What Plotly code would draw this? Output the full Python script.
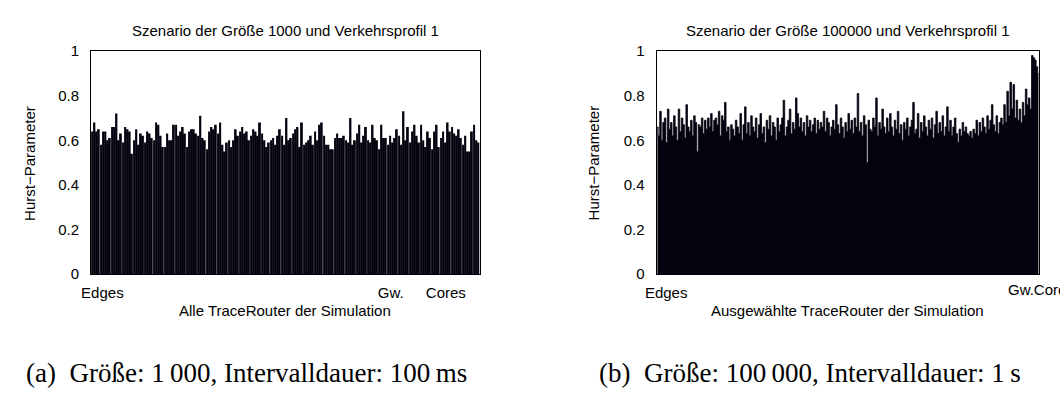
import plotly.graph_objects as go

# ---------------- data ----------------
hurst_1000 = [
    0.64, 0.68, 0.64, 0.65, 0.58, 0.64, 0.64, 0.60, 0.61, 0.66, 0.66, 0.72, 0.60, 0.63, 0.59, 0.66,
    0.65, 0.64, 0.54, 0.60, 0.65, 0.58, 0.63, 0.62, 0.59, 0.64, 0.63, 0.61, 0.60, 0.68, 0.67, 0.62,
    0.57, 0.57, 0.63, 0.60, 0.60, 0.67, 0.67, 0.62, 0.64, 0.66, 0.63, 0.57, 0.64, 0.65, 0.65, 0.63,
    0.62, 0.71, 0.61, 0.60, 0.56, 0.64, 0.66, 0.65, 0.67, 0.63, 0.68, 0.58, 0.55, 0.59, 0.60, 0.57,
    0.60, 0.65, 0.62, 0.64, 0.66, 0.63, 0.64, 0.60, 0.62, 0.65, 0.64, 0.62, 0.68, 0.63, 0.60, 0.57,
    0.59, 0.60, 0.61, 0.58, 0.62, 0.65, 0.62, 0.58, 0.70, 0.60, 0.61, 0.63, 0.65, 0.66, 0.57, 0.68,
    0.58, 0.59, 0.60, 0.62, 0.58, 0.64, 0.60, 0.67, 0.68, 0.62, 0.58, 0.58, 0.56, 0.56, 0.61, 0.63,
    0.61, 0.61, 0.62, 0.60, 0.59, 0.70, 0.58, 0.60, 0.63, 0.67, 0.59, 0.62, 0.66, 0.60, 0.59, 0.67,
    0.61, 0.60, 0.56, 0.67, 0.61, 0.61, 0.58, 0.62, 0.59, 0.61, 0.65, 0.62, 0.58, 0.73, 0.60, 0.66,
    0.59, 0.64, 0.67, 0.62, 0.59, 0.67, 0.60, 0.57, 0.64, 0.61, 0.56, 0.64, 0.67, 0.57, 0.61, 0.64,
    0.59, 0.68, 0.64, 0.66, 0.63, 0.62, 0.65, 0.61, 0.58, 0.62, 0.55, 0.55, 0.64, 0.67, 0.60, 0.59,
]

hurst_100000 = [
    0.66, 0.62, 0.73, 0.60, 0.68, 0.70, 0.59, 0.74, 0.65, 0.68, 0.62, 0.71, 0.66, 0.60, 0.74, 0.64,
    0.70, 0.67, 0.61, 0.76, 0.66, 0.64, 0.69, 0.62, 0.71, 0.68, 0.55, 0.67, 0.66, 0.70, 0.63,
    0.69, 0.65, 0.70, 0.66, 0.72, 0.64, 0.69, 0.70, 0.67, 0.73, 0.62, 0.71, 0.69, 0.77, 0.64, 0.66,
    0.60, 0.67, 0.65, 0.62, 0.69, 0.66, 0.63, 0.72, 0.60, 0.67, 0.75, 0.63, 0.68, 0.62, 0.71, 0.66,
    0.64, 0.70, 0.61, 0.67, 0.72, 0.63, 0.66, 0.59, 0.69, 0.65, 0.71, 0.62, 0.68, 0.66, 0.60, 0.70,
    0.64, 0.67, 0.70, 0.78, 0.62, 0.66, 0.69, 0.74, 0.63, 0.68, 0.65, 0.79, 0.72, 0.66, 0.70, 0.64,
    0.68, 0.62, 0.71, 0.66, 0.69, 0.64, 0.67, 0.70, 0.63, 0.69, 0.65, 0.68, 0.66, 0.73, 0.64, 0.70,
    0.68, 0.62, 0.66, 0.69, 0.65, 0.76, 0.67, 0.63, 0.70, 0.66, 0.61, 0.68, 0.64, 0.72, 0.65, 0.69,
    0.63, 0.70, 0.66, 0.81, 0.64, 0.68, 0.62, 0.71, 0.67, 0.50, 0.69, 0.65, 0.64, 0.70, 0.66, 0.79,
    0.62, 0.68, 0.65, 0.74, 0.66, 0.63, 0.70, 0.64, 0.72, 0.66, 0.62, 0.69, 0.65, 0.73, 0.63, 0.67,
    0.60, 0.68, 0.65, 0.70, 0.62, 0.66, 0.69, 0.77, 0.63, 0.65, 0.72, 0.61, 0.68, 0.64, 0.71, 0.66,
    0.62, 0.69, 0.65, 0.70, 0.61, 0.67, 0.73, 0.63, 0.68, 0.64, 0.71, 0.62, 0.66, 0.75, 0.64, 0.69,
    0.62, 0.66, 0.70, 0.63, 0.59, 0.65, 0.62, 0.68, 0.64, 0.66, 0.63, 0.62, 0.64, 0.61, 0.65, 0.63,
    0.69, 0.62, 0.68, 0.64, 0.70, 0.66, 0.63, 0.71, 0.65, 0.69, 0.76, 0.67, 0.64, 0.71, 0.63, 0.68,
    0.70, 0.67, 0.76, 0.68, 0.82, 0.71, 0.86, 0.74, 0.85, 0.70, 0.78, 0.69, 0.74, 0.68, 0.77, 0.71,
    0.83, 0.76, 0.79, 0.74, 0.98, 0.97, 0.96, 0.93, 0.90,
]

y_ticks = [0, 0.2, 0.4, 0.6, 0.8, 1]
y_tick_text = ["0", "0.2", "0.4", "0.6", "0.8", "1"]

left_x_labels = ["Edges", "Gw.", "Cores"]
left_x_label_fracs = [0.029, 0.771, 0.913]   # relative positions along the router list
right_x_labels = ["Edges", "Gw.Cores"]

titles = ["Szenario der Größe 1000 und Verkehrsprofil 1",
          "Szenario der Größe 100000 und Verkehrsprofil 1"]
x_titles = ["Alle TraceRouter der Simulation",
            "Ausgewählte TraceRouter der Simulation"]
y_title = "Hurst\u2212Parameter"
captions = ["(a)  Größe: 1\u2009000, Intervalldauer: 100\u2009ms",
            "(b)  Größe: 100\u2009000, Intervalldauer: 1\u2009s"]

# ---------------- figure ----------------
W, H = 1060, 396
BAR = "#03030f"
FONT = "Liberation Sans, Arial, sans-serif"
FS = 15

n1 = len(hurst_1000)
n2 = len(hurst_100000)

fig = go.Figure()
fig.add_trace(go.Bar(x=list(range(n1)), y=hurst_1000, xaxis="x", yaxis="y", width=0.82,
                     marker=dict(color=BAR, line=dict(width=0)), showlegend=False))
# dense bar chart: bars touch each other, drawn as a step-shaped filled area
fig.add_trace(go.Scatter(x=list(range(n2)), y=hurst_100000, xaxis="x2", yaxis="y2",
                         mode="lines", line=dict(shape="hvh", color=BAR, width=0.8),
                         fill="tozeroy", fillcolor=BAR, showlegend=False, hoverinfo="skip"))

px = lambda p: p / W
py = lambda p: 1 - p / H

dom1 = [px(80), px(473)]
dom2 = [px(652), px(1039)]
ydom = [py(277), py(44)]

axis_common = dict(showgrid=False, zeroline=False, showline=True, linecolor="black",
                   linewidth=1, mirror=True,
                   tickfont=dict(family=FONT, size=FS, color="black"))
yaxis_extra = dict(ticks="outside", ticklen=8, tickcolor="rgba(0,0,0,0)")
xaxis_extra = dict(ticks="outside", ticklen=5, tickcolor="rgba(0,0,0,0)")

left_tickvals = [f * n1 - 0.5 for f in left_x_label_fracs]
right_tickvals = [0.025 * n2 - 0.5]

fig.update_layout(
    width=W, height=H, margin=dict(l=0, r=0, t=0, b=0),
    paper_bgcolor="white", plot_bgcolor="white",
    font=dict(family=FONT, color="black"),
    xaxis=dict(domain=dom1, range=[-0.5, n1 - 0.5], anchor="y",
               tickvals=left_tickvals, ticktext=left_x_labels, **xaxis_extra, **axis_common),
    yaxis=dict(domain=ydom, range=[0, 1], anchor="x",
               tickvals=y_ticks, ticktext=y_tick_text, **yaxis_extra, **axis_common),
    xaxis2=dict(domain=dom2, range=[-0.5, n2 - 0.5], anchor="y2",
                tickvals=right_tickvals, ticktext=right_x_labels[:1], **xaxis_extra, **axis_common),
    yaxis2=dict(domain=ydom, range=[0, 1], anchor="x2",
                tickvals=y_ticks, ticktext=y_tick_text, **yaxis_extra, **axis_common),
)

ann = []
for title, dom in zip(titles, [dom1, dom2]):
    ann.append(dict(text=title, x=(dom[0] + dom[1]) / 2, y=py(22), xref="paper", yref="paper",
                    xanchor="center", yanchor="middle", showarrow=False,
                    font=dict(family=FONT, size=FS, color="black")))
for t, dom in zip(x_titles, [dom1, dom2]):
    ann.append(dict(text=t, x=(dom[0] + dom[1]) / 2, y=py(315), xref="paper", yref="paper",
                    xanchor="center", yanchor="middle", showarrow=False,
                    font=dict(family=FONT, size=FS, color="black")))
for xp in [17, 588]:
    ann.append(dict(text=y_title, x=px(xp), y=py(161), xref="paper", yref="paper",
                    xanchor="center", yanchor="middle", showarrow=False, textangle=-90,
                    font=dict(family=FONT, size=FS, color="black")))
ann.append(dict(text=right_x_labels[1], x=px(1005), y=py(293), xref="paper", yref="paper",
                xanchor="left", yanchor="middle", showarrow=False,
                font=dict(family=FONT, size=FS, color="black")))
for c, xp in zip(captions, [12, 592]):
    ann.append(dict(text=c, x=px(xp), y=py(380), xref="paper", yref="paper",
                    xanchor="left", yanchor="middle", showarrow=False,
                    font=dict(family="Liberation Serif, DejaVu Serif, serif", size=27, color="black")))
fig.update_layout(annotations=ann)

fig.write_html("out.html")
